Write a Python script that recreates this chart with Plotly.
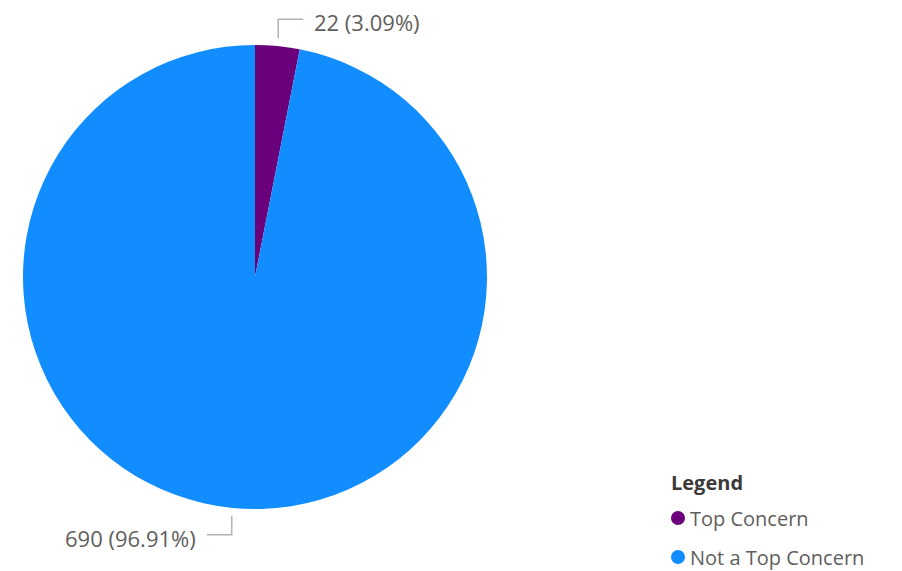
import math
import plotly.graph_objects as go

categories = ["Top Concern", "Not a Top Concern"]
values = [22, 690]
colors = ["#6B007B", "#118DFF"]

W, H = 902, 571
OFF = 8  # page body margin
CX, CY, R = 255 - OFF, 277 - OFF, 232

fig = go.Figure()
fig.add_trace(go.Pie(
    labels=categories, values=values, sort=False, direction="clockwise",
    rotation=0, textinfo="none", hoverinfo="label+value+percent",
    marker=dict(colors=colors, line=dict(width=0)),
    domain=dict(x=[(CX - R) / W, (CX + R) / W], y=[1 - (CY + R) / H, 1 - (CY - R) / H]),
    showlegend=False,
))

def px(x):
    return x / W

def py(y):
    return 1 - y / H

total = sum(values)
cum = 0
shapes = []
annotations = []
label_font = dict(family="Open Sans", size=22, color="#605E5C")
for v in values:
    frac = v / total
    mid = (cum + frac / 2) * 2 * math.pi
    cum += frac
    s, c = math.sin(mid), math.cos(mid)
    x0, y0 = CX + (R + 8) * s, CY - (R + 8) * c
    ye = CY - (R + 27) * c
    dirx = 1 if s >= 0 else -1
    x2 = x0 + dirx * 25
    shapes.append(dict(type="path", xref="paper", yref="paper",
                       path=f"M {px(x0)} {py(y0)} L {px(x0)} {py(ye)} L {px(x2)} {py(ye)}",
                       line=dict(color="#B3B3B3", width=1.5)))
    annotations.append(dict(x=px(x2 + dirx * 9), y=py(ye + 3), xref="paper", yref="paper",
                            text=f"{v} ({frac*100:.2f}%)", showarrow=False,
                            xanchor="left" if dirx > 0 else "right", yanchor="middle",
                            font=label_font))

# Legend
LX = 669 - OFF
annotations.append(dict(x=px(LX), y=py(482 - OFF), xref="paper", yref="paper", text="<b>Legend</b>",
                        showarrow=False, xanchor="left", yanchor="middle",
                        font=dict(family="Open Sans", size=20, color="#3B3A39")))
for i, (cat, col) in enumerate(zip(categories, colors)):
    yy = 518 - OFF + i * 39
    shapes.append(dict(type="circle", xref="paper", yref="paper",
                       x0=px(LX + 2), x1=px(LX + 16), y0=py(yy + 7), y1=py(yy - 7),
                       fillcolor=col, line=dict(width=0)))
    annotations.append(dict(x=px(LX + 19), y=py(yy), xref="paper", yref="paper", text=cat,
                            showarrow=False, xanchor="left", yanchor="middle",
                            font=dict(family="Open Sans", size=20, color="#605E5C")))

fig.update_layout(width=W, height=H, margin=dict(l=0, r=0, t=0, b=0),
                  paper_bgcolor="white", plot_bgcolor="white",
                  shapes=shapes, annotations=annotations)
fig.write_html("out.html")
